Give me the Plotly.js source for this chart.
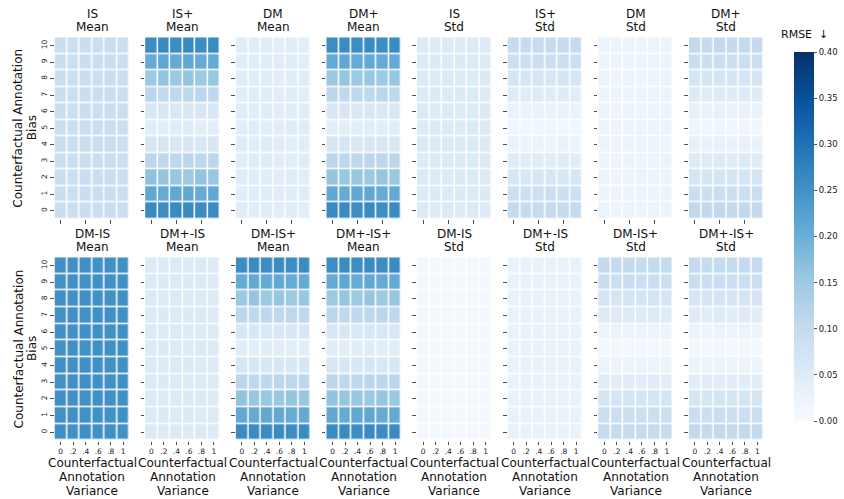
<!DOCTYPE html>
<html>
<head>
<meta charset="utf-8">
<script src="https://cdn.plot.ly/plotly-3.0.1.min.js"></script>
<style>html,body{margin:0;padding:0;background:#fff;}#chart{width:844px;height:499px;}</style>
</head>
<body>
<div id="chart"></div>
<script>
// ---- data ----
const varianceLabels = ['0', '.2', '.4', '.6', '.8', '1'];
const biasLabels = ['0', '1', '2', '3', '4', '5', '6', '7', '8', '9', '10'];
const topTitles = ['IS<br>Mean', 'IS+<br>Mean', 'DM<br>Mean', 'DM+<br>Mean', 'IS<br>Std', 'IS+<br>Std', 'DM<br>Std', 'DM+<br>Std'];
const bottomTitles = ['DM-IS<br>Mean', 'DM+-IS<br>Mean', 'DM-IS+<br>Mean', 'DM+-IS+<br>Mean', 'DM-IS<br>Std', 'DM+-IS<br>Std', 'DM-IS+<br>Std', 'DM+-IS+<br>Std'];
const xTitle = 'Counterfactual<br>Annotation<br>Variance';
const yTitle = 'Counterfactual Annotation<br>Bias';
const colorbarTitle = 'RMSE  ↓';
const colorbarTicks = [0, 0.05, 0.10, 0.15, 0.20, 0.25, 0.30, 0.35, 0.40];

// rows = bias 0..10, columns = variance 0..1
const isMean = [
  [0.091,0.090,0.091,0.090,0.091,0.090],
  [0.090,0.091,0.090,0.091,0.090,0.091],
  [0.091,0.090,0.090,0.091,0.091,0.090],
  [0.090,0.091,0.091,0.090,0.090,0.091],
  [0.091,0.090,0.091,0.091,0.090,0.090],
  [0.090,0.091,0.090,0.090,0.091,0.091],
  [0.091,0.090,0.091,0.090,0.090,0.091],
  [0.090,0.091,0.090,0.091,0.091,0.090],
  [0.091,0.090,0.091,0.090,0.090,0.091],
  [0.090,0.091,0.090,0.091,0.091,0.090],
  [0.091,0.090,0.091,0.090,0.091,0.090]
];
const isPlusMean = [
  [0.262,0.258,0.260,0.262,0.257,0.260],
  [0.212,0.206,0.210,0.212,0.206,0.210],
  [0.165,0.158,0.155,0.150,0.160,0.155],
  [0.112,0.110,0.108,0.115,0.110,0.112],
  [0.066,0.066,0.063,0.066,0.064,0.066],
  [0.045,0.041,0.044,0.046,0.042,0.045],
  [0.062,0.062,0.060,0.063,0.061,0.062],
  [0.113,0.106,0.108,0.110,0.112,0.108],
  [0.150,0.160,0.150,0.158,0.150,0.156],
  [0.206,0.212,0.206,0.210,0.206,0.208],
  [0.258,0.262,0.256,0.262,0.258,0.260]
];
const dmMean = [
  [0.046,0.045,0.046,0.045,0.046,0.045],
  [0.045,0.046,0.045,0.046,0.045,0.046],
  [0.046,0.045,0.045,0.046,0.046,0.045],
  [0.045,0.046,0.046,0.045,0.045,0.046],
  [0.046,0.045,0.046,0.046,0.045,0.045],
  [0.045,0.046,0.045,0.045,0.046,0.046],
  [0.046,0.045,0.046,0.045,0.045,0.046],
  [0.045,0.046,0.045,0.046,0.046,0.045],
  [0.046,0.045,0.046,0.045,0.045,0.046],
  [0.045,0.046,0.045,0.046,0.046,0.045],
  [0.046,0.045,0.046,0.045,0.046,0.045]
];
const dmPlusMean = [
  [0.262,0.260,0.258,0.262,0.256,0.261],
  [0.210,0.206,0.211,0.212,0.205,0.209],
  [0.160,0.156,0.155,0.152,0.158,0.154],
  [0.114,0.110,0.110,0.112,0.111,0.112],
  [0.066,0.065,0.064,0.066,0.063,0.066],
  [0.044,0.042,0.045,0.046,0.042,0.045],
  [0.062,0.061,0.060,0.063,0.060,0.062],
  [0.112,0.107,0.108,0.109,0.112,0.108],
  [0.152,0.158,0.151,0.156,0.151,0.157],
  [0.207,0.212,0.206,0.209,0.206,0.208],
  [0.258,0.261,0.257,0.262,0.258,0.260]
];
const isStd = [
  [0.054,0.053,0.054,0.053,0.054,0.053],
  [0.053,0.054,0.053,0.054,0.053,0.054],
  [0.054,0.053,0.053,0.054,0.054,0.053],
  [0.053,0.054,0.054,0.053,0.053,0.054],
  [0.054,0.053,0.054,0.054,0.053,0.053],
  [0.053,0.054,0.053,0.053,0.054,0.054],
  [0.054,0.053,0.054,0.053,0.053,0.054],
  [0.053,0.054,0.053,0.054,0.054,0.053],
  [0.054,0.053,0.054,0.053,0.053,0.054],
  [0.053,0.054,0.053,0.054,0.054,0.053],
  [0.054,0.053,0.054,0.053,0.054,0.053]
];
const isPlusStd = [
  [0.102,0.100,0.101,0.102,0.100,0.101],
  [0.086,0.085,0.086,0.087,0.085,0.086],
  [0.066,0.064,0.065,0.066,0.064,0.066],
  [0.046,0.045,0.046,0.045,0.046,0.045],
  [0.026,0.025,0.026,0.025,0.026,0.025],
  [0.015,0.014,0.015,0.015,0.014,0.015],
  [0.027,0.026,0.027,0.026,0.027,0.026],
  [0.048,0.047,0.048,0.047,0.048,0.047],
  [0.068,0.067,0.068,0.067,0.068,0.067],
  [0.088,0.087,0.088,0.087,0.088,0.087],
  [0.101,0.100,0.101,0.100,0.101,0.100]
];
const dmStd = [
  [0.022,0.021,0.022,0.021,0.022,0.021],
  [0.021,0.022,0.021,0.022,0.021,0.022],
  [0.022,0.021,0.021,0.022,0.022,0.021],
  [0.021,0.022,0.022,0.021,0.021,0.022],
  [0.022,0.021,0.022,0.022,0.021,0.021],
  [0.021,0.022,0.021,0.021,0.022,0.022],
  [0.022,0.021,0.022,0.021,0.021,0.022],
  [0.021,0.022,0.021,0.022,0.022,0.021],
  [0.022,0.021,0.022,0.021,0.021,0.022],
  [0.021,0.022,0.021,0.022,0.022,0.021],
  [0.022,0.021,0.022,0.021,0.022,0.021]
];
const dmPlusStd = [
  [0.106,0.105,0.106,0.105,0.106,0.105],
  [0.090,0.089,0.090,0.089,0.090,0.089],
  [0.070,0.069,0.070,0.069,0.070,0.069],
  [0.050,0.049,0.050,0.049,0.050,0.049],
  [0.030,0.029,0.030,0.029,0.030,0.029],
  [0.018,0.017,0.018,0.017,0.018,0.017],
  [0.030,0.029,0.030,0.029,0.030,0.029],
  [0.050,0.049,0.050,0.049,0.050,0.049],
  [0.070,0.069,0.070,0.069,0.070,0.069],
  [0.090,0.089,0.090,0.089,0.090,0.089],
  [0.104,0.103,0.104,0.103,0.104,0.103]
];
const dmIsMean = [
  [0.253,0.252,0.253,0.252,0.253,0.252],
  [0.252,0.253,0.252,0.253,0.252,0.253],
  [0.253,0.252,0.252,0.253,0.253,0.252],
  [0.252,0.253,0.253,0.252,0.252,0.253],
  [0.253,0.252,0.253,0.253,0.252,0.252],
  [0.252,0.253,0.252,0.252,0.253,0.253],
  [0.253,0.252,0.253,0.252,0.252,0.253],
  [0.252,0.253,0.252,0.253,0.253,0.252],
  [0.253,0.252,0.253,0.252,0.252,0.253],
  [0.252,0.253,0.252,0.253,0.253,0.252],
  [0.253,0.252,0.253,0.252,0.253,0.252]
];
const dmPlusIsMean = [
  [0.054,0.053,0.054,0.053,0.054,0.053],
  [0.053,0.054,0.053,0.054,0.053,0.054],
  [0.054,0.053,0.053,0.054,0.054,0.053],
  [0.053,0.054,0.054,0.053,0.053,0.054],
  [0.054,0.053,0.054,0.054,0.053,0.053],
  [0.053,0.054,0.053,0.053,0.054,0.054],
  [0.054,0.053,0.054,0.053,0.053,0.054],
  [0.053,0.054,0.053,0.054,0.054,0.053],
  [0.054,0.053,0.054,0.053,0.053,0.054],
  [0.053,0.054,0.053,0.054,0.054,0.053],
  [0.054,0.053,0.054,0.053,0.054,0.053]
];
const dmIsPlusMean = [
  [0.261,0.259,0.259,0.261,0.257,0.260],
  [0.211,0.207,0.210,0.211,0.206,0.209],
  [0.162,0.157,0.156,0.153,0.159,0.155],
  [0.113,0.110,0.109,0.113,0.111,0.112],
  [0.065,0.066,0.064,0.066,0.063,0.065],
  [0.045,0.042,0.044,0.045,0.042,0.045],
  [0.061,0.062,0.060,0.062,0.061,0.062],
  [0.112,0.106,0.108,0.110,0.111,0.108],
  [0.151,0.159,0.151,0.157,0.151,0.156],
  [0.206,0.211,0.207,0.210,0.206,0.208],
  [0.258,0.261,0.257,0.261,0.258,0.260]
];
const dmPlusIsPlusMean = [
  [0.261,0.260,0.258,0.262,0.257,0.261],
  [0.211,0.206,0.210,0.212,0.205,0.209],
  [0.161,0.157,0.155,0.152,0.159,0.154],
  [0.113,0.110,0.109,0.113,0.111,0.112],
  [0.066,0.065,0.064,0.066,0.063,0.066],
  [0.044,0.042,0.045,0.046,0.042,0.045],
  [0.062,0.061,0.060,0.063,0.061,0.062],
  [0.112,0.107,0.108,0.110,0.112,0.108],
  [0.151,0.158,0.151,0.157,0.151,0.157],
  [0.207,0.212,0.206,0.210,0.206,0.208],
  [0.258,0.261,0.257,0.262,0.258,0.260]
];
const dmIsStd = [
  [0.009,0.008,0.009,0.008,0.009,0.008],
  [0.008,0.009,0.008,0.009,0.008,0.009],
  [0.009,0.008,0.008,0.009,0.009,0.008],
  [0.008,0.009,0.009,0.008,0.008,0.009],
  [0.009,0.008,0.009,0.009,0.008,0.008],
  [0.008,0.009,0.008,0.008,0.009,0.009],
  [0.009,0.008,0.009,0.008,0.008,0.009],
  [0.008,0.009,0.008,0.009,0.009,0.008],
  [0.009,0.008,0.009,0.008,0.008,0.009],
  [0.008,0.009,0.008,0.009,0.009,0.008],
  [0.009,0.008,0.009,0.008,0.009,0.008]
];
const dmPlusIsStd = [
  [0.029,0.028,0.029,0.028,0.029,0.028],
  [0.028,0.029,0.028,0.029,0.028,0.029],
  [0.029,0.028,0.028,0.029,0.029,0.028],
  [0.028,0.029,0.029,0.028,0.028,0.029],
  [0.029,0.028,0.029,0.029,0.028,0.028],
  [0.028,0.029,0.028,0.028,0.029,0.029],
  [0.029,0.028,0.029,0.028,0.028,0.029],
  [0.028,0.029,0.028,0.029,0.029,0.028],
  [0.029,0.028,0.029,0.028,0.028,0.029],
  [0.028,0.029,0.028,0.029,0.029,0.028],
  [0.029,0.028,0.029,0.028,0.029,0.028]
];
const dmIsPlusStd = [
  [0.101,0.100,0.101,0.100,0.101,0.100],
  [0.089,0.088,0.089,0.088,0.089,0.088],
  [0.070,0.069,0.070,0.069,0.070,0.069],
  [0.046,0.045,0.046,0.045,0.046,0.045],
  [0.023,0.022,0.023,0.022,0.023,0.022],
  [0.012,0.011,0.012,0.011,0.012,0.011],
  [0.025,0.024,0.025,0.024,0.025,0.024],
  [0.050,0.049,0.050,0.049,0.050,0.049],
  [0.070,0.069,0.070,0.069,0.070,0.069],
  [0.090,0.089,0.090,0.089,0.090,0.089],
  [0.102,0.101,0.102,0.101,0.102,0.101]
];
const dmPlusIsPlusStd = [
  [0.104,0.103,0.104,0.103,0.104,0.103],
  [0.090,0.089,0.090,0.089,0.090,0.089],
  [0.069,0.068,0.069,0.068,0.069,0.068],
  [0.047,0.046,0.047,0.046,0.047,0.046],
  [0.025,0.024,0.025,0.024,0.025,0.024],
  [0.013,0.012,0.013,0.012,0.013,0.012],
  [0.025,0.024,0.025,0.024,0.025,0.024],
  [0.048,0.047,0.048,0.047,0.048,0.047],
  [0.070,0.069,0.070,0.069,0.070,0.069],
  [0.090,0.089,0.090,0.089,0.090,0.089],
  [0.102,0.101,0.102,0.101,0.102,0.101]
];

const topData = [isMean, isPlusMean, dmMean, dmPlusMean, isStd, isPlusStd, dmStd, dmPlusStd];
const bottomData = [dmIsMean, dmPlusIsMean, dmIsPlusMean, dmPlusIsPlusMean, dmIsStd, dmPlusIsStd, dmIsPlusStd, dmPlusIsPlusStd];

// ---- layout helpers ----
const W = 844, H = 499;
const blues = [
  [0.0, '#f7fbff'], [0.125, '#deebf7'], [0.25, '#c6dbef'], [0.375, '#9ecae1'],
  [0.5, '#6baed6'], [0.625, '#4292c6'], [0.75, '#2171b5'], [0.875, '#08519c'], [1.0, '#08306b']
];
const FONT = 'DejaVu Sans, sans-serif';
const panelLeft = 54.5, panelStep = 90.6, panelW = 75;
const rowsPx = [[37.3, 219], [257.3, 440.5]];

const traces = [];
const layout = {
  width: W, height: H,
  margin: {l: 0, r: 0, t: 0, b: 0},
  paper_bgcolor: '#fff', plot_bgcolor: '#fff',
  font: {family: FONT, color: '#111'},
  showlegend: false,
  coloraxis: {
    cmin: 0, cmax: 0.4, colorscale: blues,
    colorbar: {
      x: 794 / W, xanchor: 'left', xpad: 0,
      y: 1 - 52 / H, yanchor: 'top', ypad: 0,
      len: 369, lenmode: 'pixels',
      thickness: 20, thicknessmode: 'pixels',
      outlinewidth: 0,
      ticks: 'outside', ticklen: 3.5, tickwidth: 0.8, tickcolor: '#222',
      tickvals: colorbarTicks, tickformat: '.2f',
      tickfont: {size: 8.5, family: FONT, color: '#222'}
    }
  },
  annotations: []
};

function textLine(txt, xPx, yPx, size, angle) {
  return {
    text: txt, xref: 'paper', yref: 'paper',
    x: xPx / W, y: 1 - yPx / H,
    xanchor: 'center', yanchor: 'middle', showarrow: false,
    textangle: angle || 0, borderpad: 0,
    font: {size: size, family: FONT, color: '#111'}
  };
}

const allTitles = [topTitles, bottomTitles];
const allData = [topData, bottomData];
let n = 0;
for (let r = 0; r < 2; r++) {
  for (let c = 0; c < 8; c++) {
    n++;
    const xa = n === 1 ? 'xaxis' : 'xaxis' + n;
    const ya = n === 1 ? 'yaxis' : 'yaxis' + n;
    const xr = n === 1 ? 'x' : 'x' + n;
    const yr = n === 1 ? 'y' : 'y' + n;
    const x0 = panelLeft + panelStep * c;
    const xc = x0 + panelW / 2;
    traces.push({
      type: 'heatmap', x: varianceLabels, y: biasLabels, z: allData[r][c],
      xaxis: xr, yaxis: yr, coloraxis: 'coloraxis',
      xgap: 1.5, ygap: 1.5, hoverongaps: false
    });
    layout[xa] = {
      domain: [x0 / W, (x0 + panelW) / W], anchor: yr, type: 'category',
      range: [-0.5, 5.5], showgrid: false, zeroline: false, showline: false,
      ticks: 'outside', ticklen: 3.5, tickwidth: 0.8, tickcolor: '#222',
      showticklabels: r === 1,
      tickfont: {size: 7.5, family: FONT, color: '#222'}, tickangle: 0,
      fixedrange: true
    };
    layout[ya] = {
      domain: [1 - rowsPx[r][1] / H, 1 - rowsPx[r][0] / H], anchor: xr, type: 'category',
      range: [-0.5, 10.5], showgrid: false, zeroline: false, showline: false,
      ticks: 'outside', ticklen: 3.5, tickwidth: 0.8, tickcolor: '#222',
      showticklabels: c === 0, tickangle: -90,
      tickfont: {size: 7.5, family: FONT, color: '#222'},
      fixedrange: true
    };
    // panel title, one annotation per line
    const tl = allTitles[r][c].split('<br>');
    layout.annotations.push(textLine(tl[0], xc, rowsPx[r][0] - 23, 12));
    layout.annotations.push(textLine(tl[1], xc, rowsPx[r][0] - 10.3, 12));
    if (r === 1) {
      const xl = xTitle.split('<br>');
      layout.annotations.push(textLine(xl[0], xc, 463, 12));
      layout.annotations.push(textLine(xl[1], xc, 477, 12));
      layout.annotations.push(textLine(xl[2], xc, 490.5, 12));
    }
  }
  const yl = yTitle.split('<br>');
  const ym = (rowsPx[r][0] + rowsPx[r][1]) / 2;
  layout.annotations.push(textLine(yl[0], 18.5, ym, 12, -90));
  layout.annotations.push(textLine(yl[1], 32, ym, 12, -90));
}
layout.annotations.push(textLine(colorbarTitle, 804, 35, 11));

Plotly.newPlot('chart', traces, layout, {displayModeBar: false, staticPlot: true});
</script>
</body>
</html>
